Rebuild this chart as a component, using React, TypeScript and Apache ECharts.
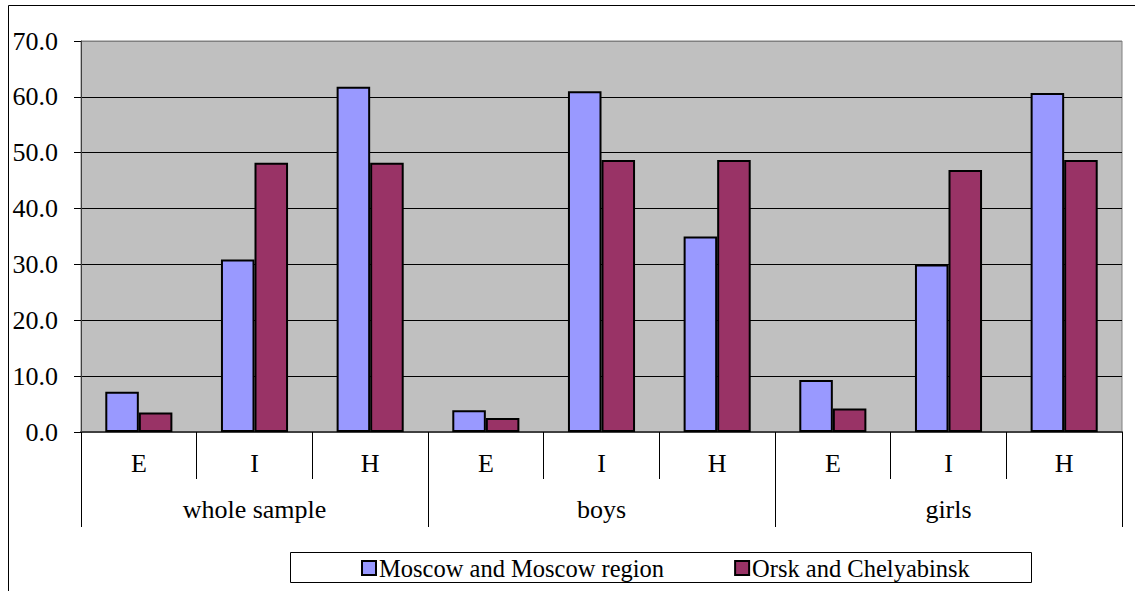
import React, { useEffect, useRef } from "react";
import * as echarts from "echarts";

const subCategories = ["E", "I", "H", "E", "I", "H", "E", "I", "H"];
const groups = ["whole sample", "boys", "girls"];
const moscow = [7.2, 30.9, 61.8, 3.9, 61.0, 35.0, 9.3, 30.0, 60.7];
const orsk = [3.5, 48.2, 48.2, 2.5, 48.7, 48.7, 4.2, 46.9, 48.7];
const seriesNames = ["Moscow and Moscow region", "Orsk and Chelyabinsk"];
const yTicks = [0, 10, 20, 30, 40, 50, 60, 70];

const FONT = "Liberation Serif";

export default function App() {
  const ref = useRef<HTMLDivElement>(null);
  useEffect(() => {
    if (!ref.current) return;
    const chart = echarts.init(ref.current, null, { renderer: "svg" });
    const gridColors = yTicks.map((v, i) => (i === yTicks.length - 1 ? "#808080" : "#000000"));
    chart.setOption({
      animation: false,
      backgroundColor: "#ffffff",
      textStyle: { fontFamily: FONT, color: "#000" },
      graphic: [
        {
          type: "rect",
          shape: { x: 8.5, y: 5.5, width: 1200, height: 700 },
          style: { fill: "none", stroke: "#000", lineWidth: 1 },
          silent: true,
        },
        {
          type: "rect",
          shape: { x: 290.5, y: 552.5, width: 741, height: 30 },
          style: { fill: "#fff", stroke: "#000", lineWidth: 1 },
          silent: true,
          z: -1,
        },
      ],
      grid: {
        left: 81,
        top: 41,
        right: 13,
        bottom: 159,
        show: true,
        backgroundColor: "#C0C0C0",
        borderColor: "#808080",
        borderWidth: 1,
      },
      legend: {
        data: seriesNames,
        left: 361,
        top: 555,
        padding: 0,
        itemWidth: 14,
        itemHeight: 14,
        itemGap: 70,
        icon: "rect",
        textStyle: { fontFamily: FONT, fontSize: 24.5, color: "#000", lineHeight: 26, padding: [0, 0, 0, -2] },
        itemStyle: { borderColor: "#000", borderWidth: 2 },
      },
      xAxis: [
        {
          type: "category",
          data: subCategories,
          position: "bottom",
          axisLine: { show: true, lineStyle: { color: "#404040", width: 2 } },
          axisTick: { show: true, interval: 0, length: 47, lineStyle: { color: "#000", width: 1 } },
          axisLabel: { interval: 0, fontFamily: FONT, fontSize: 26, color: "#000", margin: 18, lineHeight: 26 },
          splitLine: { show: false },
        },
        {
          type: "category",
          data: groups,
          position: "bottom",
          axisLine: { show: false },
          axisTick: { show: true, interval: 0, length: 95, lineStyle: { color: "#000", width: 1 } },
          axisLabel: { interval: 0, fontFamily: FONT, fontSize: 26, color: "#000", margin: 64, lineHeight: 26 },
          splitLine: { show: false },
        },
      ],
      yAxis: {
        type: "value",
        min: 0,
        max: 70,
        interval: 10,
        axisLine: { show: true, lineStyle: { color: "#404040", width: 1 } },
        axisTick: { show: true, length: 7, lineStyle: { color: "#000" } },
        axisLabel: {
          fontFamily: FONT,
          fontSize: 26,
          color: "#000",
          margin: 23,
          lineHeight: 26,
          formatter: (v: number) => v.toFixed(1),
        },
        splitLine: { show: true, lineStyle: { color: gridColors, width: 1 } },
      },
      series: [
        {
          name: seriesNames[0],
          type: "bar",
          data: moscow,
          barWidth: "29%",
          barGap: "0%",
          itemStyle: { color: "#9999FF", borderColor: "#000", borderWidth: 2 },
        },
        {
          name: seriesNames[1],
          type: "bar",
          data: orsk,
          barWidth: "29%",
          barGap: "0%",
          itemStyle: { color: "#993366", borderColor: "#000", borderWidth: 2 },
        },
      ],
    });
    return () => chart.dispose();
  }, []);
  return (
    <div
      ref={ref}
      style={{ position: "absolute", left: 0, top: 0, width: 1135, height: 591 }}
    />
  );
}
